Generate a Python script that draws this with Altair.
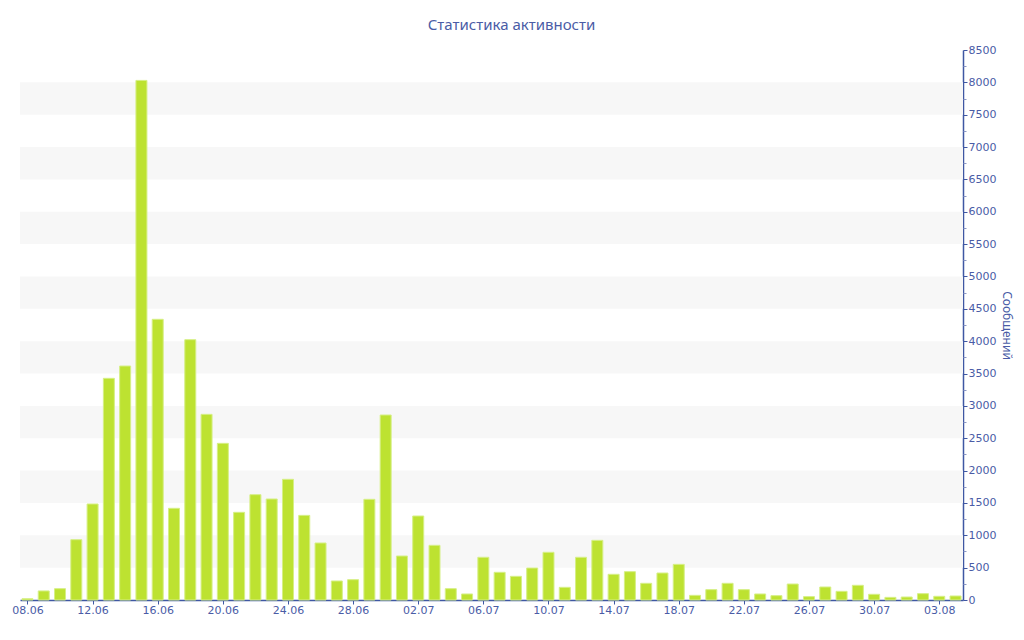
import altair as alt
import pandas as pd

dates = pd.date_range("2023-06-08", "2023-08-04", freq="D").strftime("%Y-%m-%d").tolist()
messages = [20, 140, 175, 932, 1484, 3426, 3616, 8030, 4338, 1417,
            4023, 2869, 2421, 1355, 1628, 1561, 1865, 1308, 881, 294,
            314, 1556, 2859, 680, 1298, 845, 175, 93, 660, 428,
            366, 494, 737, 196, 660, 922, 397, 438, 258, 417,
            551, 72, 160, 258, 160, 93, 67, 247, 52, 201,
            134, 227, 88, 41, 46, 98, 57, 62]
tick_dates = ["2023-06-08", "2023-06-12", "2023-06-16", "2023-06-20", "2023-06-24",
              "2023-06-28", "2023-07-02", "2023-07-06", "2023-07-10", "2023-07-14",
              "2023-07-18", "2023-07-22", "2023-07-26", "2023-07-30", "2023-08-03"]
band_lo = [500, 1500, 2500, 3500, 4500, 5500, 6500, 7500]
band_hi = [1000, 2000, 3000, 4000, 5000, 6000, 7000, 8000]
major_ticks = list(range(0, 8501, 500))
minor_ticks = list(range(250, 8500, 500))

W, H = 943, 550
AXIS_COLOR = "#3f57a3"
TEXT_COLOR = "#4a5ca6"
BAR_COLOR = "#bde231"

df = pd.DataFrame({"date": dates, "value": messages})
bands = pd.DataFrame({"lo": band_lo, "hi": band_hi})
minor_df = pd.DataFrame({"v": minor_ticks})


def dt(s, h=0, m=0):
    y, mo, d = [int(p) for p in s.split("-")]
    return alt.DateTime(year=y, month=mo, date=d, hours=h, minutes=m, utc=True)


x_domain = [dt("2023-06-07", 13, 0), dt("2023-08-04", 11, 0)]
y_scale = alt.Scale(domain=[0, 8500], nice=False, zero=True)

band_layer = alt.Chart(bands).mark_rect(color="#f7f7f7").encode(
    x=alt.value(0),
    x2=alt.value(W),
    y=alt.Y("lo:Q", scale=y_scale, axis=None),
    y2="hi:Q",
)

bars = alt.Chart(df).mark_bar(
    width=11, color=BAR_COLOR, stroke="#d6ef86", strokeWidth=1
).encode(
    x=alt.X(
        "date:T",
        scale=alt.Scale(type="utc", domain=x_domain, padding=0),
        axis=alt.Axis(
            values=[dt(t) for t in tick_dates],
            labelExpr="utcFormat(datum.value, '%d.%m')",
            title=None,
            grid=False,
            domainColor=AXIS_COLOR,
            domainWidth=1.5,
            tickColor=AXIS_COLOR,
            tickSize=4,
            labelColor=TEXT_COLOR,
            labelFont="DejaVu Sans",
            labelFontSize=11,
            labelPadding=0,
            labelOverlap=False,
            labelFlush=False,
        ),
    ),
    y=alt.Y(
        "value:Q",
        scale=y_scale,
        axis=alt.Axis(
            orient="right",
            values=major_ticks,
            format="d",
            title="Сообщений",
            titleColor=TEXT_COLOR,
            titleFont="Noto Sans",
            titleFontSize=12,
            titleFontWeight="normal",
            titlePadding=4,
            grid=False,
            domainColor=AXIS_COLOR,
            domainWidth=1.5,
            tickColor=AXIS_COLOR,
            tickSize=4,
            labelColor=TEXT_COLOR,
            labelFont="DejaVu Sans",
            labelFontSize=11,
            labelPadding=1,
            labelOverlap=False,
            labelFlush=False,
        ),
    ),
)

minor_layer = alt.Chart(minor_df).mark_tick(opacity=0).encode(
    y=alt.Y(
        "v:Q",
        scale=y_scale,
        axis=alt.Axis(
            orient="right",
            values=minor_ticks,
            labels=False,
            title=None,
            domain=False,
            grid=False,
            tickColor="#8a96c4",
            tickSize=3,
        ),
    ),
    x=alt.value(W),
)

chart = alt.layer(band_layer, bars, minor_layer).resolve_scale(y="independent").properties(
    width=W,
    height=H,
    autosize=alt.AutoSizeParams(type="none"),
    padding={"left": 12, "top": 42, "right": 53, "bottom": 30},
    title=alt.TitleParams(
        "Статистика активности",
        font="Noto Sans",
        fontSize=15,
        fontWeight="normal",
        color=TEXT_COLOR,
        anchor="middle",
        dx=20,
        offset=11,
    ),
).configure_view(stroke=None)

chart.save("out.html", embed_options={"renderer": "svg", "actions": False})
